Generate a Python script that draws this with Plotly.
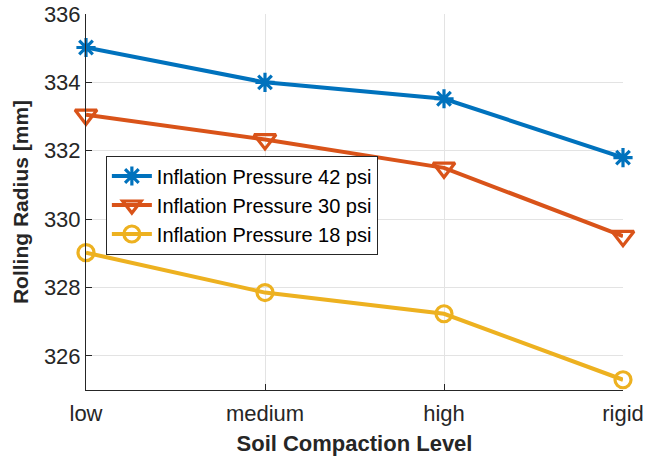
import plotly.graph_objects as go

categories = ["low", "medium", "high", "rigid"]
p42 = [335.02, 334.0, 333.52, 331.8]
p30 = [333.05, 332.33, 331.5, 329.5]
p18 = [329.02, 327.85, 327.23, 325.3]
names = ["Inflation Pressure 42 psi", "Inflation Pressure 30 psi", "Inflation Pressure 18 psi"]
colors = ["#0072BD", "#D95319", "#EDB120"]
symbols = ["asterisk-open", "triangle-down-open", "circle-open"]
sizes = [16, 19, 16]
y_ticks = [326, 328, 330, 332, 334, 336]

xpos = list(range(len(categories)))
fig = go.Figure()
for vals, nm, c, s, sz in zip([p42, p30, p18], names, colors, symbols, sizes):
    fig.add_trace(go.Scatter(
        x=xpos, y=vals, name=nm, mode="lines+markers",
        line=dict(color=c, width=4),
        marker=dict(symbol=s, size=sz, color=c, line=dict(color=c, width=3.2)),
        cliponaxis=False,
    ))

fig.update_layout(
    width=646, height=456,
    margin=dict(l=86, r=23, t=14, b=66, autoexpand=False),
    paper_bgcolor="white", plot_bgcolor="white",
    font=dict(family="Arial, Liberation Sans, sans-serif", color="#262626"),
    showlegend=True,
    legend=dict(
        x=0.037, y=0.492, xanchor="left", yanchor="middle",
        bgcolor="white", bordercolor="#262626", borderwidth=1,
        font=dict(size=20, color="#000000"),
        itemwidth=40, tracegroupgap=0,
    ),
)
fig.update_xaxes(
    range=[0, 3], tickvals=xpos, ticktext=categories,
    showgrid=True, gridcolor="#e3e3e3", gridwidth=1,
    showline=True, linecolor="#262626", linewidth=1,
    ticks="inside", ticklen=6, tickcolor="#262626",
    tickfont=dict(size=22), zeroline=False, automargin=False,
    ticklabelstandoff=4,
    title=dict(text="<b>Soil Compaction Level</b>", font=dict(size=22), standoff=12),
)
fig.update_yaxes(
    range=[325, 336], tickvals=y_ticks,
    showgrid=True, gridcolor="#e3e3e3", gridwidth=1,
    showline=True, linecolor="#262626", linewidth=1,
    ticks="inside", ticklen=6, tickcolor="#262626",
    tickfont=dict(size=22), zeroline=False, automargin=False,
    title=dict(text="<b>Rolling Radius [mm]</b>", font=dict(size=21), standoff=9),
)
fig.write_html("out.html", config={"displayModeBar": False},
               post_script="document.body.style.margin='0';document.body.style.padding='0';")
